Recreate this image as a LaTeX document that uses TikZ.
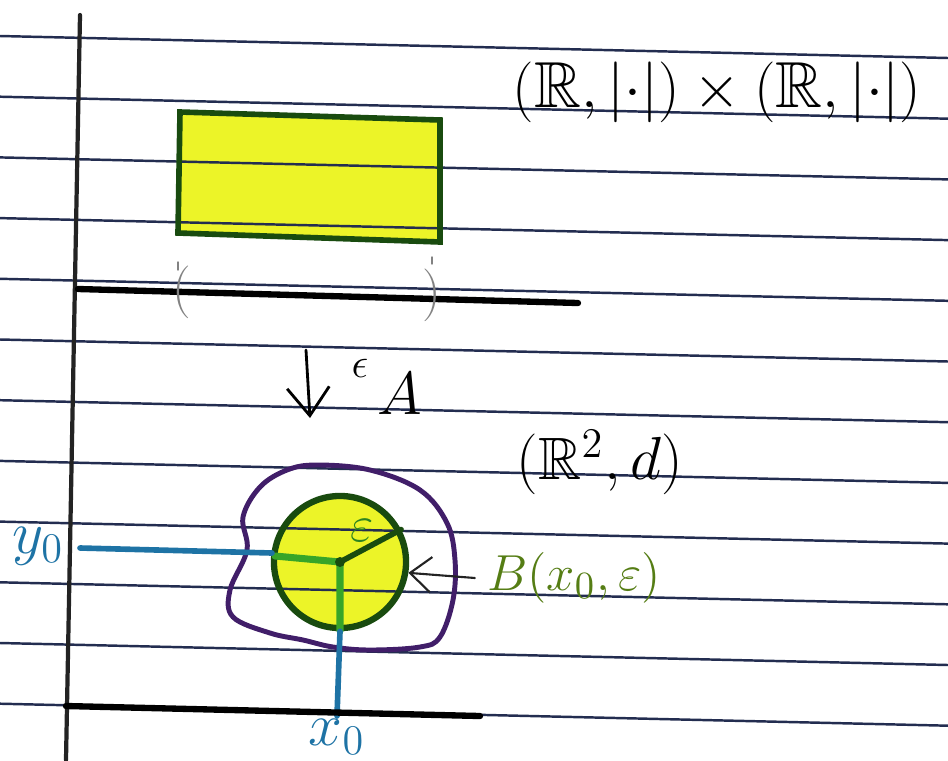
\documentclass[tikz,border=0pt]{standalone}
\usepackage{amssymb}
\usetikzlibrary{arrows.meta,positioning}
\definecolor{colRule}{RGB}{35,45,80}
\definecolor{colMargin}{RGB}{35,35,35}
\definecolor{colHigh}{RGB}{236,244,40}
\definecolor{colPen}{RGB}{25,75,15}
\definecolor{colGreen}{RGB}{55,165,40}
\definecolor{colLabel}{RGB}{85,125,20}
\definecolor{colBlue}{RGB}{30,115,165}
\definecolor{colPurple}{RGB}{65,30,105}
\definecolor{colPencil}{RGB}{130,130,130}

\begin{document}
\begin{tikzpicture}[x=0.01cm, y=-0.01cm, line cap=round,
    every node/.style={font=\fontsize{17}{20}\selectfont}]
    \useasboundingbox (0,0) rectangle (948,760);

    % highlighter
    \fill[colHigh] (180,112) -- (440,120) -- (440,242) -- (178,233) -- cycle;
    \fill[colHigh] (340,562) circle[radius=66];

    % notebook ruling
    \foreach \i in {0,...,11} {
        \draw[colRule, line width=0.7pt] (0,{36+60.7*\i}) -- (948,{58+60.7*\i});
    }
    \draw[colMargin, line width=1.2pt] (80,15) -- (66,760);

    % product space
    \draw[colPen, line width=1.6pt] (180,112) -- (440,120) -- (440,242) -- (178,233) -- cycle;
    \node[font=\fontsize{18.5}{22}\selectfont] (prod) at (717,92) {$(\mathbb{R},|{\cdot}|)\times(\mathbb{R},|{\cdot}|)$};

    \draw[black, line width=1.8pt] (78,289) -- (578,303);
    \node[colPencil, font=\fontsize{15}{18}\selectfont] (lpar) at (182,292) {(};
    \node[colPencil, font=\fontsize{15}{18}\selectfont] (rpar) at (432,295) {)};
    \draw[colPencil] (178,262) -- (178,270);
    \draw[colPencil] (432,257) -- (432,264);

    % map
    \coordinate (mapTop) at (306,350);
    \coordinate (mapEnd) at (310,418);
    \draw[line width=0.8pt, -{Straight Barb[length=8pt, width=12pt]}] (mapTop) -- (mapEnd);
    \node[font=\fontsize{12}{14}\selectfont] (mapEps) at (360,368) {$\epsilon$};
    \node (mapA) at (400,394) {$A$};

    % metric space
    \node (plane) at (600,462) {$(\mathbb{R}^2,d)$};

    \draw[colPurple, line width=1.4pt] plot[smooth cycle, tension=0.6] coordinates {
        (317,465) (370,470) (420,490) (447,523) (455,560) (453,600)
        (440,637) (420,647) (370,650) (333,647) (303,640) (270,633)
        (233,617) (230,590) (247,550) (243,517) (260,487) (287,470)};

    \node[circle, draw=colPen, line width=1.8pt, minimum size=1.32cm, inner sep=0pt] (ball) at (340,562) {};
    \coordinate (ctr) at (340,562);
    \coordinate (ballW) at (275,556);
    \draw[colGreen, line width=2pt] (ballW) -- (ctr) -- (ball.south);
    \draw[colPen, line width=1.6pt] (ctr) -- (ball.28);
    \fill[colPen] (ctr) circle[radius=5];
    \node[colGreen!80!black, font=\fontsize{14}{16}\selectfont] (epsLbl) at (362,531) {$\varepsilon$};

    % coordinates of the centre
    \coordinate (yEnd) at (80,548);
    \coordinate (xEnd) at (337,716);
    \draw[colBlue, line width=1.6pt] (yEnd) -- (272,553);
    \draw[colBlue, line width=1.6pt] (ball.south) -- (xEnd);
    \node[colBlue] (y0) at (38,546) {$y_0$};
    \node[colBlue] (x0) at (337,737) {$x_0$};

    \node[colLabel, font=\fontsize{15}{18}\selectfont] (ballLbl) at (574,578) {$B(x_0,\varepsilon)$};
    \draw[colMargin, line width=0.6pt, -{Straight Barb[length=6pt, width=10pt]}] (ballLbl.west) -- (ball.-9);

    \draw[black, line width=1.8pt] (66,706) -- (480,716);
\end{tikzpicture}
\end{document}
